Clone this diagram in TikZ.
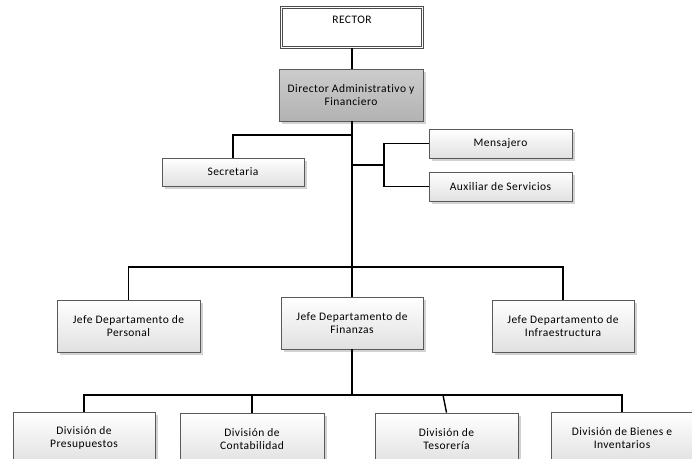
\documentclass[tikz,border=0pt]{standalone}
\usepackage{fontspec}
\setmainfont{Carlito}[LetterSpace=4, Ligatures=NoCommon]
\usetikzlibrary{shadows}
\begin{document}
\begin{tikzpicture}[x=1pt,y=-1pt,
  orgbox/.style={draw=black!65, line width=0.8pt, top color=white, bottom color=black!12,
    align=center, inner sep=2pt, font=\fontsize{11.5}{12.6}\selectfont,
    minimum width=143pt, minimum height=52pt,
    drop shadow={shadow xshift=2.5pt, shadow yshift=-2.5pt, fill=black!35, opacity=0.5}},
  smallbox/.style={orgbox, minimum height=29pt},
  headbox/.style={orgbox, top color=black!20, bottom color=black!30},
  topbox/.style={draw=black!70, line width=0.8pt, double, double distance=1.8pt, fill=white,
    align=center, inner sep=2pt, font=\fontsize{11.5}{12.6}\selectfont,
    minimum width=141pt, minimum height=40pt},
  link/.style={line width=1.4pt, black}
]
\useasboundingbox (0,0) rectangle (692,458);

% boxes
\node[topbox] (rector) at (352,27.5) {RECTOR\\\strut};
\node[headbox, minimum width=144pt] (dir) at (351,95) {Director Administrativo y\\Financiero};
\node[smallbox, minimum width=142pt, minimum height=28pt] (sec) at (233,172) {Secretaria};
\node[smallbox] (men) at (500.5,143.5) {Mensajero};
\node[smallbox] (aux) at (500.5,186.5) {Auxiliar de Servicios};

\node[orgbox] (per) at (128.5,326) {Jefe Departamento de\\Personal};
\node[orgbox, minimum width=142pt] (fin) at (352,323) {Jefe Departamento de\\Finanzas};
\node[orgbox, minimum width=142pt] (inf) at (563,326) {Jefe Departamento de\\Infraestructura};

\node[orgbox, minimum width=142pt] (pre) at (84,438) {División de\\Presupuestos};
\node[orgbox, minimum width=144pt] (con) at (252,439) {División de\\Contabilidad};
\node[orgbox] (tes) at (446.5,439) {División de\\Tesorería};
\node[orgbox, minimum width=142pt] (bie) at (622,438) {División de Bienes e\\Inventarios};

% junction points
\coordinate (secjoin) at (352,135);
\coordinate (brjoin) at (352,165);
\coordinate (brmid) at (384,165);
\coordinate (bus2) at (352,267);
\coordinate (bus3) at (352,395);

% connectors
\draw[link] (rector) -- (rector |- dir.north);
\draw[link] (rector.south |- dir.south) -- (fin.north);
\draw[link] (sec.north) |- (secjoin);
\draw[link] (brjoin) -- (brmid);
\draw[link] (men.west) -| (brmid) |- (aux.west);
\draw[link] (per.north) |- (bus2) -| (inf.north);
\draw[link] (fin.south) -- (bus3);
\draw[link] (pre.north) |- (bus3) -| (bie.north);
\draw[link] (con.north) -- (con.north |- bus3);
\draw[link] (tes.north) -- ([xshift=-3.5pt]tes.north |- bus3);
\end{tikzpicture}
\end{document}
